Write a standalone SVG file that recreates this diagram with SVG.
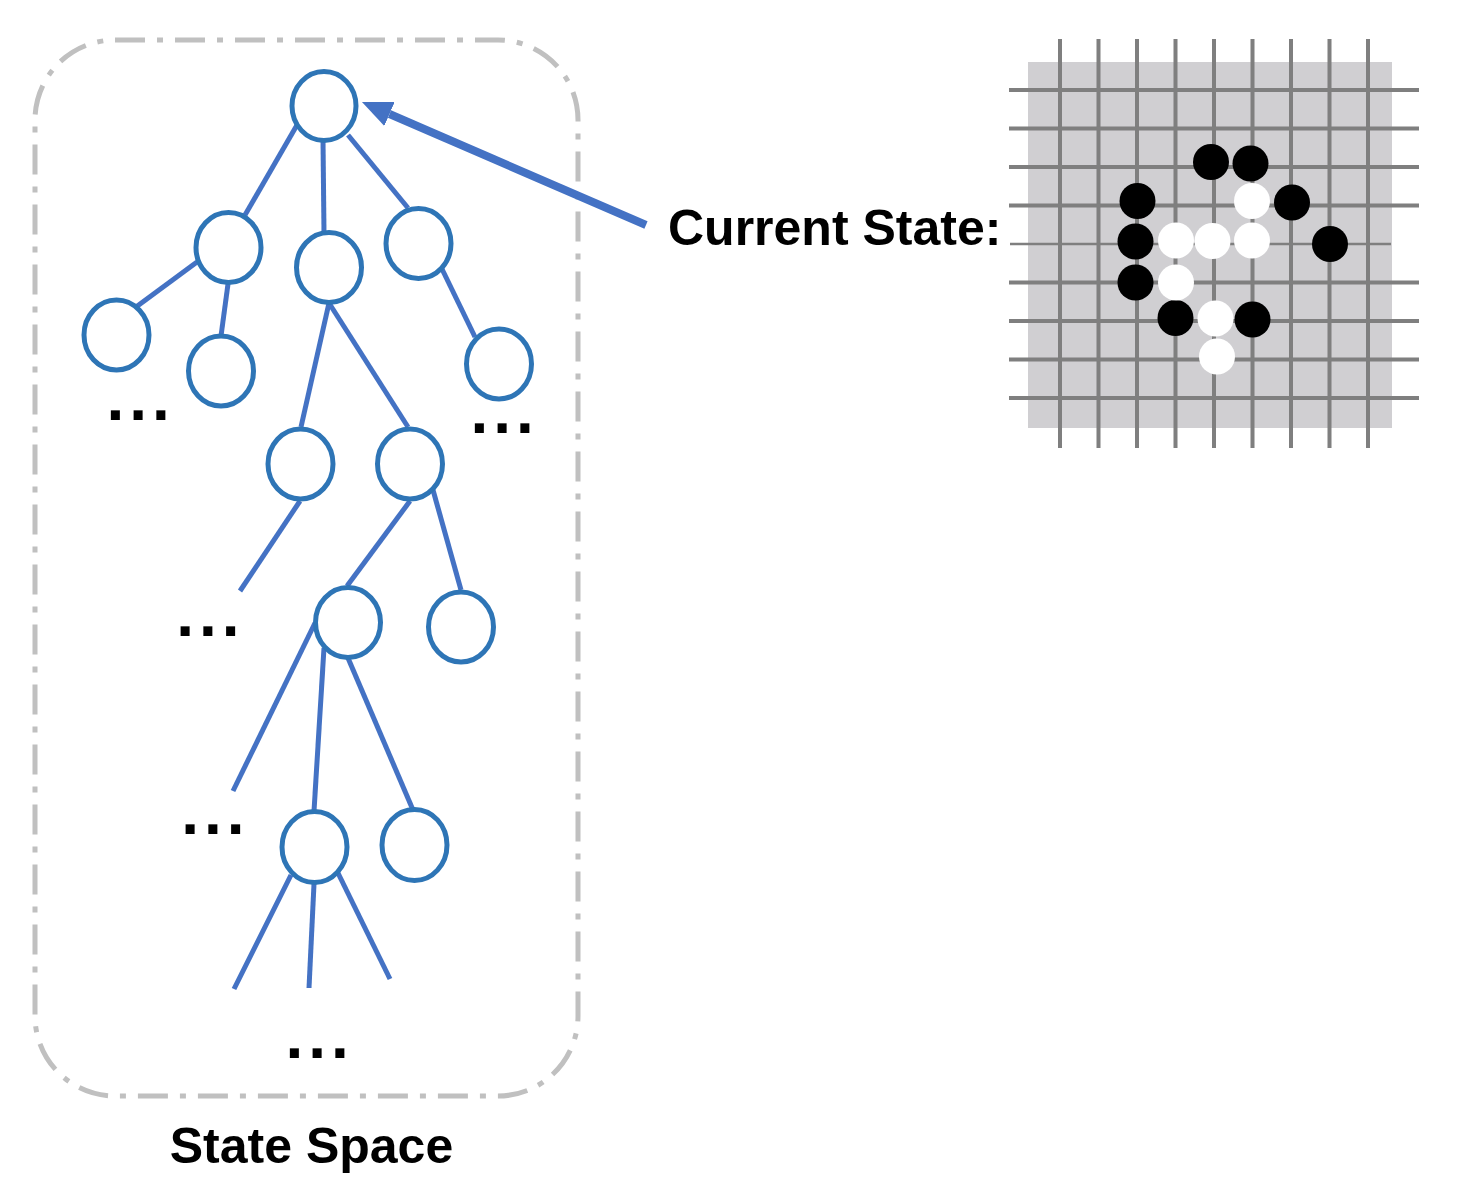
<svg xmlns="http://www.w3.org/2000/svg" width="1460" height="1200" viewBox="0 0 1460 1200">
<defs>
<style>
.node{fill:#ffffff;stroke:#2e75b6;stroke-width:5}
.edge{stroke:#4472c4;stroke-width:5;fill:none}
.lbl{font-family:"Liberation Sans",Arial,sans-serif;font-weight:bold;font-size:50px;fill:#000}
.dots{font-family:"Liberation Sans",Arial,sans-serif;font-weight:bold;font-size:64px;letter-spacing:4.9px;fill:#000}
.grid{stroke:#7f7f7f;stroke-width:4}
.b{fill:#000}
.w{fill:#fff}
</style>
<marker id="ah" viewBox="0 0 30 26" markerWidth="30" markerHeight="26" refX="0" refY="13" orient="auto" markerUnits="userSpaceOnUse">
<path d="M0,0 L30,13 L0,26 z" fill="#4472c4"/>
</marker>
</defs>
<rect width="1460" height="1200" fill="#fff"/>
<g id="state-space-border">
<rect x="35" y="40" width="543" height="1056" rx="80" ry="80" fill="none" stroke="#c0c0c0" stroke-width="5" stroke-dasharray="30 12 6 12"/>
</g>
<g id="connectors">
<line class="edge" x1="297" y1="125" x2="245" y2="215"/>
<line class="edge" x1="323" y1="140" x2="324" y2="233"/>
<line class="edge" x1="348" y1="135" x2="408" y2="208"/>
<line class="edge" x1="197" y1="262" x2="136" y2="307"/>
<line class="edge" x1="228" y1="284" x2="221" y2="336"/>
<line class="edge" x1="442" y1="269" x2="475" y2="337"/>
<line class="edge" x1="329" y1="303" x2="301" y2="427"/>
<line class="edge" x1="329" y1="303" x2="408" y2="427"/>
<line class="edge" x1="300" y1="501" x2="240" y2="591"/>
<line class="edge" x1="410" y1="501" x2="347" y2="586"/>
<line class="edge" x1="433" y1="490" x2="461" y2="590"/>
<line class="edge" x1="315" y1="623" x2="233" y2="791"/>
<line class="edge" x1="324" y1="648" x2="314" y2="811"/>
<line class="edge" x1="348" y1="658" x2="413" y2="810"/>
<line class="edge" x1="291" y1="875" x2="234" y2="989"/>
<line class="edge" x1="314" y1="884" x2="309" y2="988"/>
<line class="edge" x1="338" y1="873" x2="390" y2="979"/>
<line id="current-arrow" x1="646" y1="225" x2="389.5" y2="114" stroke="#4472c4" stroke-width="8" marker-end="url(#ah)"/>
</g>
<g id="n1"><ellipse class="node" cx="324" cy="106" rx="32" ry="34.5"/></g>
<g id="n2"><ellipse class="node" cx="228.5" cy="247.5" rx="32.5" ry="35"/></g>
<g id="n3"><ellipse class="node" cx="329" cy="267.5" rx="32.5" ry="35"/></g>
<g id="n4"><ellipse class="node" cx="418.5" cy="243.5" rx="32.5" ry="35"/></g>
<g id="n5"><ellipse class="node" cx="116.5" cy="335" rx="32.5" ry="35"/></g>
<g id="n6"><ellipse class="node" cx="221" cy="371" rx="32.5" ry="35"/></g>
<g id="n7"><ellipse class="node" cx="499" cy="364" rx="32.5" ry="35"/></g>
<g id="n8"><ellipse class="node" cx="300.5" cy="464" rx="32.5" ry="35"/></g>
<g id="n9"><ellipse class="node" cx="410" cy="464" rx="32.5" ry="35"/></g>
<g id="n10"><ellipse class="node" cx="348" cy="622.5" rx="32.5" ry="35"/></g>
<g id="n11"><ellipse class="node" cx="461" cy="627" rx="32.5" ry="35"/></g>
<g id="n12"><ellipse class="node" cx="314.5" cy="847" rx="32.5" ry="35.5"/></g>
<g id="n13"><ellipse class="node" cx="414.5" cy="845" rx="32.5" ry="35.5"/></g>
<g id="ellipses">
<text class="dots" x="106.6" y="420">...</text>
<text class="dots" x="470.6" y="433">...</text>
<text class="dots" x="176.3" y="636">...</text>
<text class="dots" x="181.3" y="834">...</text>
<text class="dots" x="285.6" y="1058">...</text>
</g>
<g id="label-state-space"><text class="lbl" x="311.5" y="1163" text-anchor="middle">State Space</text></g>
<g id="label-current-state"><text class="lbl" x="668" y="245">Current State:</text></g>
<g id="board">
<rect x="1028" y="62" width="364" height="366" fill="#d0cfd2"/>
<g class="grid">
<line x1="1060" y1="39" x2="1060" y2="448"/>
<line x1="1098.5" y1="39" x2="1098.5" y2="448"/>
<line x1="1137" y1="39" x2="1137" y2="448"/>
<line x1="1175.5" y1="39" x2="1175.5" y2="448"/>
<line x1="1214" y1="39" x2="1214" y2="448"/>
<line x1="1252.5" y1="39" x2="1252.5" y2="448"/>
<line x1="1291" y1="39" x2="1291" y2="448"/>
<line x1="1329.5" y1="39" x2="1329.5" y2="448"/>
<line x1="1368" y1="39" x2="1368" y2="448"/>
<line x1="1009" y1="90" x2="1419" y2="90"/>
<line x1="1009" y1="128.5" x2="1419" y2="128.5"/>
<line x1="1009" y1="167" x2="1419" y2="167"/>
<line x1="1009" y1="205.5" x2="1419" y2="205.5"/>
<line x1="1010" y1="244" x2="1391" y2="244" stroke-width="2.5"/>
<line x1="1009" y1="282.5" x2="1419" y2="282.5"/>
<line x1="1009" y1="321" x2="1419" y2="321"/>
<line x1="1009" y1="359.5" x2="1419" y2="359.5"/>
<line x1="1009" y1="398" x2="1419" y2="398"/>
</g>
<circle class="b" cx="1211" cy="162" r="18"/>
<circle class="b" cx="1250.5" cy="163.5" r="18"/>
<circle class="b" cx="1137.5" cy="201" r="18"/>
<circle class="b" cx="1292" cy="202.5" r="18"/>
<circle class="b" cx="1135.5" cy="241.5" r="18"/>
<circle class="b" cx="1330" cy="244" r="18"/>
<circle class="b" cx="1135.5" cy="282.5" r="18"/>
<circle class="b" cx="1175.5" cy="318" r="18"/>
<circle class="b" cx="1252.5" cy="319.5" r="18"/>
<circle class="w" cx="1252" cy="201" r="18"/>
<circle class="w" cx="1176" cy="240.5" r="18"/>
<circle class="w" cx="1212.5" cy="241" r="18"/>
<circle class="w" cx="1252" cy="240.5" r="18"/>
<circle class="w" cx="1176" cy="282.5" r="18"/>
<circle class="w" cx="1215.5" cy="318.5" r="18"/>
<circle class="w" cx="1217" cy="356.5" r="18"/>
</g>
</svg>
